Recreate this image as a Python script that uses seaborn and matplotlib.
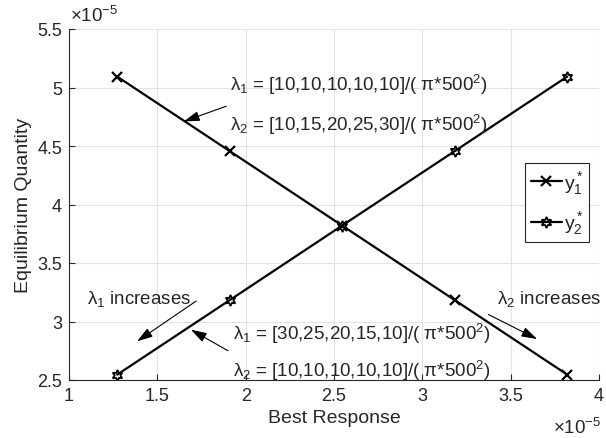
import matplotlib
matplotlib.use("Agg")
import matplotlib.pyplot as plt
import seaborn as sns
import pandas as pd

# values in units of 1e-5
best_response = [1.273, 1.910, 2.546, 3.183, 3.820]
y1_star = [5.093, 4.456, 3.820, 3.183, 2.546]
y2_star = [2.546, 3.183, 3.820, 4.456, 5.093]
series_labels = [r"y$^*_1$", r"y$^*_2$"]
x_ticks = [1, 1.5, 2, 2.5, 3, 3.5, 4]
y_ticks = [2.5, 3, 3.5, 4, 4.5, 5, 5.5]

sns.set_theme(style="white")
plt.rcParams["font.family"] = ["Liberation Sans", "DejaVu Sans"]
plt.rcParams["mathtext.fontset"] = "custom"
plt.rcParams["mathtext.rm"] = "Liberation Sans"
plt.rcParams["mathtext.it"] = "Liberation Sans:italic"
plt.rcParams["mathtext.default"] = "regular"

df1 = pd.DataFrame({"x": best_response, "y": y1_star})
df2 = pd.DataFrame({"x": best_response, "y": y2_star})

fig = plt.figure(figsize=(6.06, 4.39), dpi=100)
ax = fig.add_axes([69/606, 1-381/439, 530/606, 351/439])

sns.lineplot(data=df1, x="x", y="y", ax=ax, color="black", lw=1.6,
             marker="x", markersize=7, markeredgewidth=1.6,
             markeredgecolor="black", label=series_labels[0])
sns.lineplot(data=df2, x="x", y="y", ax=ax, color="black", lw=1.6,
             marker=(6, 1, 0), markersize=8, markeredgewidth=1.3,
             markerfacecolor="none", markeredgecolor="black",
             label=series_labels[1])

ax.set_xlim(1, 4)
ax.set_ylim(2.5, 5.5)
ax.set_xticks(x_ticks)
ax.set_yticks(y_ticks)
ax.set_xticklabels([f"{t:g}" for t in x_ticks])
ax.set_yticklabels([f"{t:g}" for t in y_ticks])
ax.tick_params(direction="in", length=4, width=0.8, colors="#262626",
               labelsize=13, pad=5, bottom=True, left=True)
ax.grid(True, color="#e3e3e3", lw=0.8)
ax.set_axisbelow(True)
for s in ["top", "right"]:
    ax.spines[s].set_visible(False)
for s in ["left", "bottom"]:
    ax.spines[s].set_color("#262626")
    ax.spines[s].set_linewidth(0.8)

ax.set_xlabel("Best Response", fontsize=14, color="#262626", labelpad=4)
ax.set_ylabel("Equilibrium Quantity", fontsize=14, color="#262626", labelpad=4)

fig.text(70/606, 1-16/439, r"$\times$10$^{-5}$", fontsize=13.5, color="#262626",
         ha="left", va="center")
fig.text(601/606, 1-428/439, r"$\times$10$^{-5}$", fontsize=13.5, color="#262626",
         ha="right", va="center")

tfs = 13.5
ax.text(1.912, 5.03, "λ$_1$ = [10,10,10,10,10]/( π*500$^2$)", fontsize=tfs, va="center")
ax.text(1.912, 4.69, "λ$_2$ = [10,15,20,25,30]/( π*500$^2$)", fontsize=tfs, va="center")
ax.text(1.929, 2.90, "λ$_1$ = [30,25,20,15,10]/( π*500$^2$)", fontsize=tfs, va="center")
ax.text(1.929, 2.59, "λ$_2$ = [10,10,10,10,10]/( π*500$^2$)", fontsize=tfs, va="center")
ax.text(1.10, 3.20, "λ$_1$ increases", fontsize=tfs, va="center")
ax.text(3.42, 3.20, "λ$_2$ increases", fontsize=tfs, va="center")

arrow = dict(arrowstyle="-|>,head_length=0.8,head_width=0.25", color="black", lw=0.8,
             shrinkA=0, shrinkB=0)
ax.annotate("", xy=(1.65, 4.71), xytext=(1.89, 4.84), arrowprops=arrow)
ax.annotate("", xy=(1.385, 2.83), xytext=(1.72, 3.175), arrowprops=arrow)
ax.annotate("", xy=(3.65, 2.85), xytext=(3.374, 3.06), arrowprops=arrow)
ax.annotate("", xy=(1.69, 2.93), xytext=(1.90, 2.75), arrowprops=arrow)

leg = ax.legend(loc="upper right", bbox_to_anchor=(0.981, 0.618), borderaxespad=0,
                fontsize=14, handlelength=1.6, handletextpad=0.1,
                fancybox=False, framealpha=1, edgecolor="#262626",
                borderpad=0.3, labelspacing=0.7)
leg.get_frame().set_linewidth(0.8)

fig.savefig("out.png", dpi=100)
